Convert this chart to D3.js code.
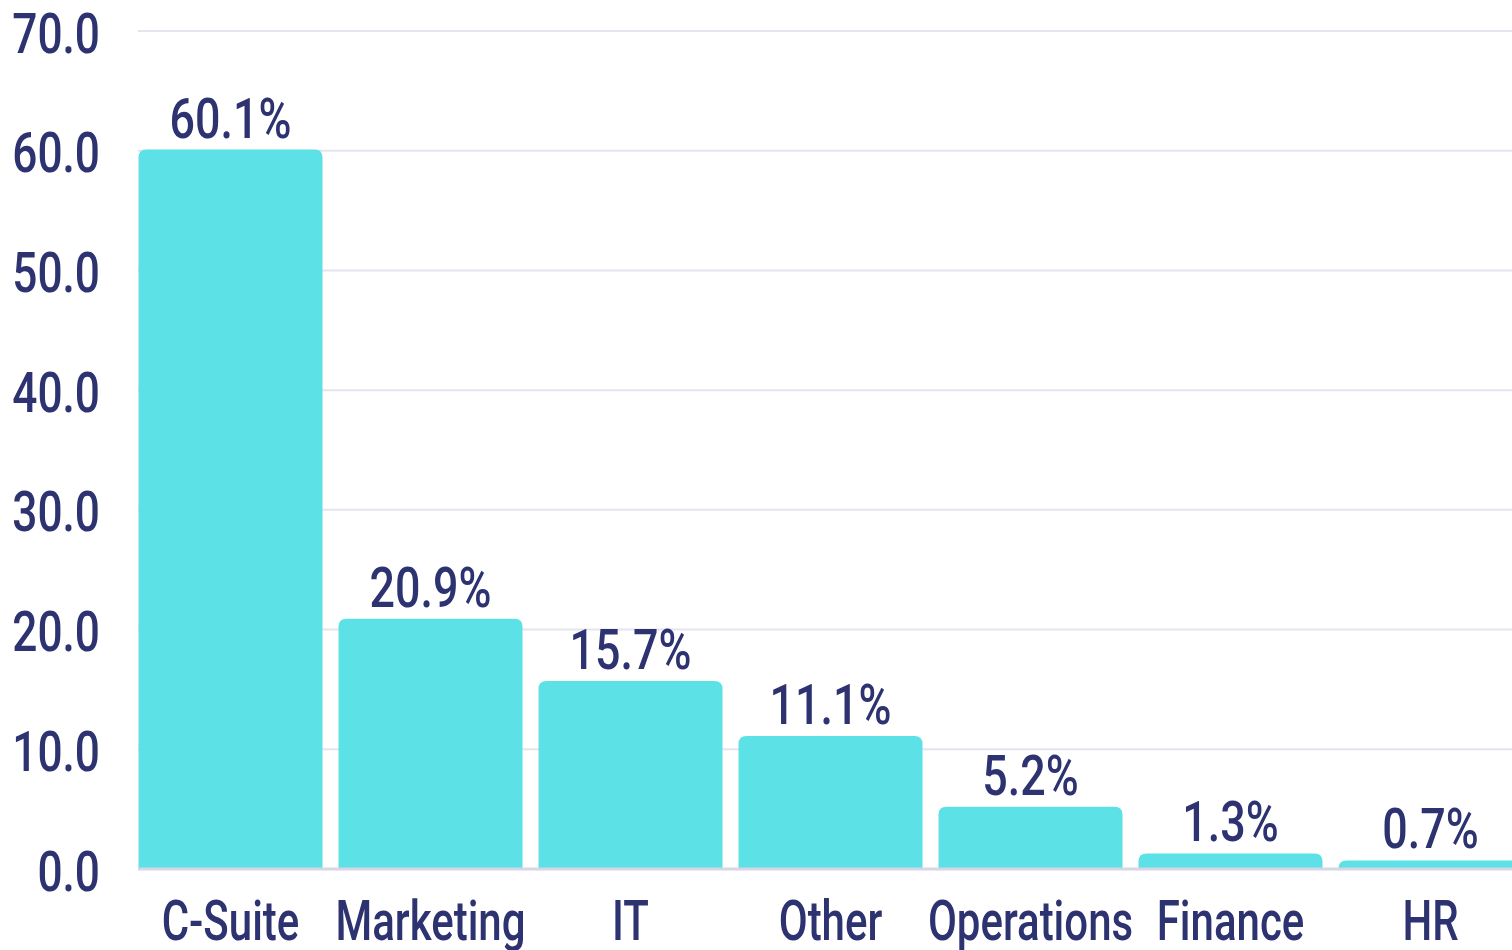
<!DOCTYPE html>
<html><head><meta charset="utf-8">
<script src="https://cdn.jsdelivr.net/npm/d3@7"></script>
<style>
html,body{margin:0;padding:0;background:#fff;overflow:hidden;}
svg{display:block;}
text{font-family:Roboto,"Noto Sans",sans-serif;fill:#2d3270;font-weight:500;}
</style></head>
<body>
<svg id="chart" width="1512" height="950"></svg>
<script>
const categories = ["C-Suite","Marketing","IT","Other","Operations","Finance","HR"];
const values = [60.1, 20.9, 15.7, 11.1, 5.2, 1.3, 0.7];
const valueLabels = ["60.1%","20.9%","15.7%","11.1%","5.2%","1.3%","0.7%"];
const yTicks = [0,10,20,30,40,50,60,70];

const svg = d3.select("#chart");
const FS = 56;
const x = d3.scaleBand().domain(categories).range([130.5, 1530.5]).paddingInner(0.08).paddingOuter(0.04);
const y = d3.scaleLinear().domain([0,70]).range([869, 31]);
const gridLeft = 138;

// grid
svg.append("g").selectAll("line").data(yTicks.filter(d=>d>0)).join("line")
  .attr("x1", gridLeft).attr("x2", 1512)
  .attr("y1", d=>y(d)).attr("y2", d=>y(d))
  .attr("stroke", "#e4e4ef").attr("stroke-width", 2);

// bars with rounded top corners
const r = 8;
svg.append("g").selectAll("path").data(categories).join("path")
  .attr("fill", "#5ce1e6")
  .attr("d", (c,i) => {
    const x0 = x(c), w = x.bandwidth(), y0 = y(values[i]), yb = y(0);
    const rr = Math.min(r, (yb - y0));
    return `M${x0},${yb} L${x0},${y0+rr} Q${x0},${y0} ${x0+rr},${y0} L${x0+w-rr},${y0} Q${x0+w},${y0} ${x0+w},${y0+rr} L${x0+w},${yb} Z`;
  });

// baseline
svg.append("line").attr("x1", gridLeft).attr("x2", 1512).attr("y1", y(0)).attr("y2", y(0))
  .attr("stroke", "#d6d6e4").attr("stroke-width", 3);

// value labels
svg.append("g").selectAll("text").data(categories).join("text")
  .attr("text-anchor", "middle")
  .attr("font-size", FS)
  .attr("transform", (c,i) => `translate(${x(c)+x.bandwidth()/2},${Math.min(y(values[i])-12, y(0)-21)}) scale(0.8,1)`)
  .text((c,i) => valueLabels[i]);

// y axis
const yAxis = svg.append("g").attr("transform", `translate(${gridLeft},0)`)
  .call(d3.axisLeft(y).tickValues(yTicks).tickFormat(d3.format(".1f")).tickSize(0));
yAxis.select(".domain").remove();
yAxis.selectAll("text")
  .attr("x", null).attr("dy", null)
  .attr("font-size", FS).attr("font-family", null).attr("fill", null)
  .attr("text-anchor", "end")
  .attr("transform", `translate(-38,21) scale(0.79,1)`);

// x axis
const xAxis = svg.append("g").attr("transform", `translate(0,${y(0)})`)
  .call(d3.axisBottom(x).tickSize(0));
xAxis.select(".domain").remove();
xAxis.selectAll("text")
  .attr("y", null).attr("dy", null)
  .attr("font-size", FS).attr("font-family", null).attr("fill", null)
  .attr("text-anchor", "middle")
  .attr("transform", `translate(0,71) scale(0.75,1)`);
</script>
</body></html>
